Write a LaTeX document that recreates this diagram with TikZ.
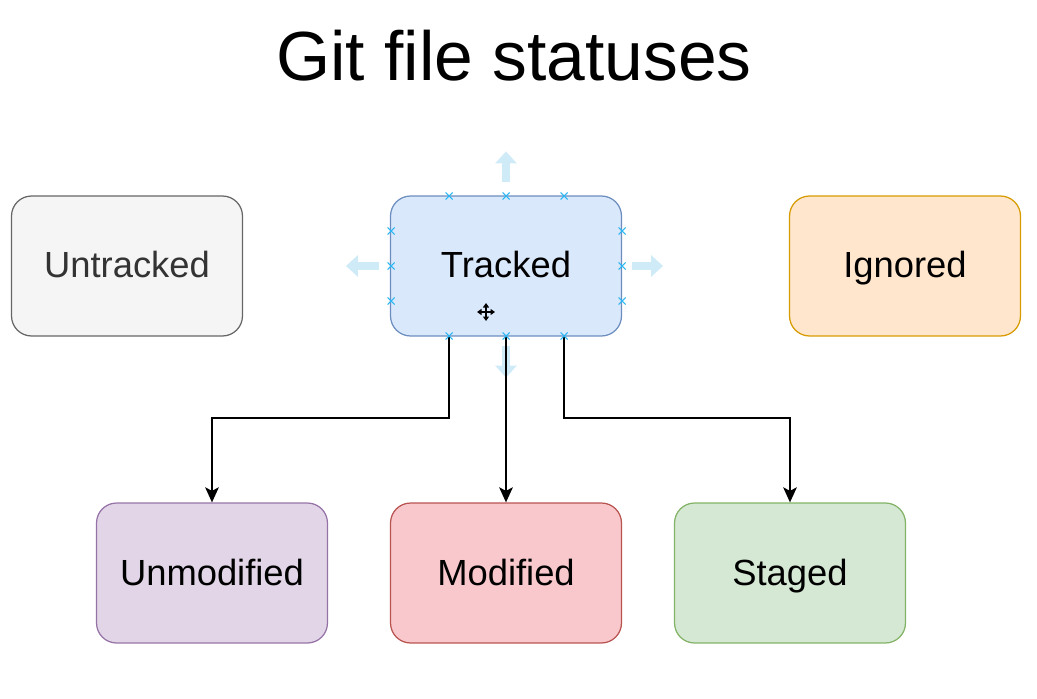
\documentclass[tikz,border=0pt]{standalone}
\usepackage{fontspec}
\setmainfont{Liberation Sans}
\usetikzlibrary{arrows.meta, positioning}

\definecolor{greyfill}{HTML}{F5F5F5}
\definecolor{greyline}{HTML}{666666}
\definecolor{greytext}{HTML}{333333}
\definecolor{bluefill}{HTML}{DAE8FC}
\definecolor{blueline}{HTML}{6C8EBF}
\definecolor{orangefill}{HTML}{FFE6CC}
\definecolor{orangeline}{HTML}{D79B00}
\definecolor{purplefill}{HTML}{E1D5E7}
\definecolor{purpleline}{HTML}{9673A6}
\definecolor{redfill}{HTML}{F9C8CC}
\definecolor{redline}{HTML}{B85450}
\definecolor{greenfill}{HTML}{D5E8D4}
\definecolor{greenline}{HTML}{82B366}
\definecolor{handle}{HTML}{CFEBF8}
\definecolor{cross}{HTML}{29B6F2}

\begin{document}
\begin{tikzpicture}[x=0.02cm, y=-0.02cm,
    status/.style={draw, rounded corners=0.4cm, line width=0.7pt, minimum width=4.62cm, minimum height=2.8cm,
        text height=0.63cm, text depth=0.15cm, font=\fontsize{20.7}{24}\selectfont},
    link/.style={line width=1.5pt, -{Stealth[length=0.3cm, width=0.27cm, inset=0.07cm]}},
    grip/.style={handle, line width=0.16cm, -{Triangle[length=0.24cm, width=0.42cm]}}]
    \useasboundingbox (0,0) rectangle (1037,699);

    \node (title) [anchor=base, font=\fontsize{39.6}{44}\selectfont] at (514,81) {Git file statuses};

    \node (untracked) [status, fill=greyfill, draw=greyline, text=greytext] at (127,266) {Untracked};
    \node (tracked) [status, fill=bluefill, draw=blueline] at (506,266) {Tracked};
    \node (ignored) [status, fill=orangefill, draw=orangeline] at (905,266) {Ignored};

    \node (unmodified) [status, fill=purplefill, draw=purpleline] at (212,573) {Unmodified};
    \node (modified) [status, fill=redfill, draw=redline] at (506,573) {Modified};
    \node (staged) [status, fill=greenfill, draw=greenline] at (790,573) {Staged};

    % editor handles around the selected box
    \draw [grip] (tracked.north) ++(0,-13) -- ++(0,-31);
    \draw [grip] (tracked.west) ++(-11,0) -- ++(-33,0);
    \draw [grip] (tracked.east) ++(10,0) -- ++(31,0);
    \draw [grip] (tracked.south) ++(0,9) -- ++(0,32);

    \draw [link] (tracked.south) ++(-57,0) coordinate (t1) |- (212,418) -- (unmodified.north);
    \draw [link] (tracked.south) -- (modified.north);
    \draw [link] (tracked.south) ++(58,0) coordinate (t3) |- (790,418) -- (staged.north);

    \foreach \p in {(449,196),(506,196),(564,196),(449,336),(506,336),(564,336),
                    (391,231),(391,266),(391,301),(622,231),(622,266),(622,301)}
        \draw [cross, line width=0.6pt] \p ++(-3.5,-3.5) -- ++(7,7) \p ++(-3.5,3.5) -- ++(7,-7);

    % move cursor
    \coordinate (cur) at (486,312);
    \draw [line width=1.1pt, {Triangle[length=0.09cm, width=0.12cm]}-{Triangle[length=0.09cm, width=0.12cm]}] (cur) ++(-9,0) -- ++(18,0);
    \draw [line width=1.1pt, {Triangle[length=0.09cm, width=0.12cm]}-{Triangle[length=0.09cm, width=0.12cm]}] (cur) ++(0,-9) -- ++(0,18);
\end{tikzpicture}
\end{document}
